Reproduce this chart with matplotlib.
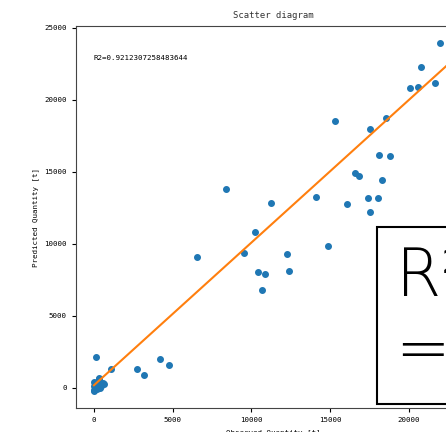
import numpy as np
import matplotlib.pyplot as plt

# observed vs predicted quantity [t]
obs_x = [21971, 20806, 20066, 20574, 21654, 15345, 17526, 18561, 18140, 18815,
         16594, 16872, 18332, 16087, 17442, 18056, 17526, 8382, 11240, 14116,
         10243, 6521, 9544, 12300, 14904, 10458, 10902, 12426, 10687,
         146, 1060, 2711, 3194, 4172, 4743,
         19, 0, 19, 171, 318, 381, 552, 635, 337, 50, 200, 100, 420, 260, 30, 80]
pred_y = [23909, 22240, 20808, 20878, 21177, 18536, 17957, 18744, 16173, 16103,
          14922, 14692, 14456, 12788, 13163, 13205, 12211, 13810, 12858, 13254,
          10842, 9105, 9362, 9313, 9848, 8041, 7881, 8090, 6790,
          2113, 1321, 1300, 904, 2016, 1599,
          417, 118, -181, 236, 584, 0, 348, 236, 695, 300, -100, 50, 150, 450, -250, -30]

fit_slope = 0.99
fit_intercept = 170
fit_range = [0, 22760]
r2 = 0.9212307258483644

small = 'DejaVu Sans Mono'

fig = plt.figure(figsize=(4.46, 4.32), dpi=100)
ax = fig.add_axes([0.1697, 0.0549, 0.8841, 0.8843])

ax.scatter(obs_x, pred_y, s=16, color='C0', zorder=2)
lx = np.array(fit_range)
ax.plot(lx, fit_slope * lx + fit_intercept, color='C1', lw=1.5)

ax.set_xlim(-1160, 23900)
ax.set_ylim(-1430, 25100)
ax.set_xticks([0, 5000, 10000, 15000, 20000])
ax.set_yticks([0, 5000, 10000, 15000, 20000, 25000])
ax.tick_params(labelsize=5.4, length=3, width=0.8)
for lab in ax.get_xticklabels() + ax.get_yticklabels():
    lab.set_family(small)
for sp in ax.spines.values():
    sp.set_color('#444444')

ax.set_title('Scatter diagram', family=small, fontsize=6.4, color='#333333')
ax.set_xlabel('Observed Quantity [t]', family=small, fontsize=5.4)
ax.set_ylabel('Predicted Quantity [t]', family=small, fontsize=5.4)

ax.text(0, 22900, 'R2=0.' + str(r2)[2:], family=small, fontsize=5.4, va='center')

# big R^2 box, cut by the right edge as in the reference
ax.text(19220, 9820, 'R\u00b2\n= ' + f'{r2:.2f}', family=['DejaVu Sans'],
        fontweight='light', fontsize=47, ha='left', va='top',
        bbox=dict(boxstyle='square,pad=0.3', fc='white', ec='black', lw=1.5))

fig.savefig('out.png', dpi=100)
